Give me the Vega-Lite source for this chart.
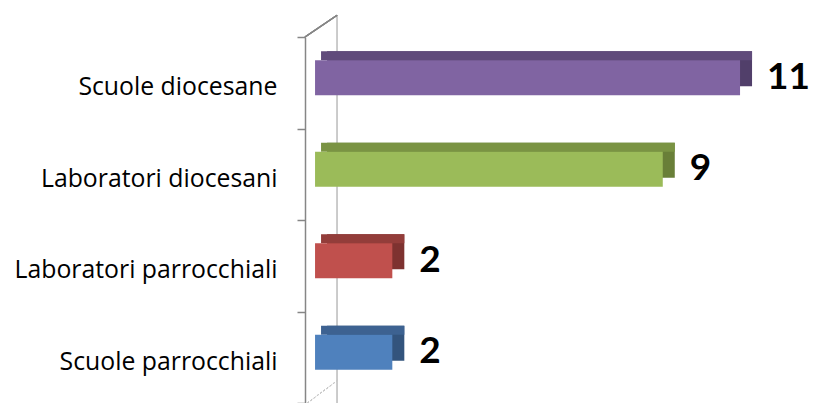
{
  "$schema": "https://vega.github.io/schema/vega-lite/v6.json",
  "width": 493,
  "height": 366,
  "autosize": "none",
  "padding": {"left": 305, "top": 37, "right": 16, "bottom": 0},
  "background": "white",
  "config": {"view": {"stroke": null}},
  "data": {"values": [
    {"cat": "Scuole diocesane", "v": 11},
    {"cat": "Laboratori diocesani", "v": 9},
    {"cat": "Laboratori parrocchiali", "v": 2},
    {"cat": "Scuole parrocchiali", "v": 2}
  ]},
  "encoding": {
    "y": {
      "field": "cat", "type": "nominal",
      "sort": ["Scuole diocesane", "Laboratori diocesani", "Laboratori parrocchiali", "Scuole parrocchiali"],
      "scale": {"paddingInner": 0, "paddingOuter": 0},
      "axis": {
        "title": null, "tickBand": "extent", "tickSize": 8, "tickColor": "#868686", "tickWidth": 1.5,
        "domainColor": "#868686", "domainWidth": 1.5,
        "labelFont": "Open Sans", "labelFontSize": 24.8, "labelColor": "#000000", "labelLimit": 400,
        "labelPadding": 20, "labelOffset": 5, "grid": false
      }
    }
  },
  "layer": [
    {
      "mark": {"type": "rule", "color": "#C8C8C8", "strokeWidth": 1, "yOffset": -22, "y2Offset": -22},
      "encoding": {"x": {"datum": 0.57, "type": "quantitative", "scale": {"domain": [-0.26, 12.5], "nice": false, "zero": false}, "axis": null}, "y": null}
    },
    {
      "mark": {"type": "rule", "color": "#868686", "strokeWidth": 1.5, "y2Offset": -67.5},
      "encoding": {
        "x": {"datum": -0.26, "type": "quantitative"},
        "x2": {"datum": 0.57},
        "y": {"datum": "Scuole diocesane", "bandPosition": 0},
        "y2": {"datum": "Scuole diocesane"}
      }
    },
    {
      "mark": {"type": "rule", "color": "#C8C8C8", "strokeWidth": 1, "strokeDash": [2, 2], "y2Offset": 23.5},
      "encoding": {
        "x": {"datum": -0.2, "type": "quantitative"},
        "x2": {"datum": 0.57},
        "y": {"datum": "Scuole parrocchiali", "bandPosition": 1},
        "y2": {"datum": "Scuole parrocchiali"}
      }
    },
    {
      "mark": {"type": "bar", "height": 35, "yOffset": -14, "xOffset": 12, "x2Offset": 12},
      "encoding": {
        "x": {"field": "v", "type": "quantitative"},
        "x2": {"datum": 0},
        "color": {"field": "cat", "type": "nominal", "legend": null,
          "scale": {"domain": ["Scuole diocesane", "Laboratori diocesani", "Laboratori parrocchiali", "Scuole parrocchiali"],
                    "range": ["#513F6A", "#697F38", "#7E3230", "#33547D"]}}
      }
    },
    {
      "mark": {"type": "bar", "height": 9, "yOffset": -27, "xOffset": 12, "x2Offset": 6},
      "encoding": {
        "x": {"field": "v", "type": "quantitative"},
        "x2": {"datum": 0},
        "fill": {"field": "cat", "type": "nominal", "legend": null,
          "scale": {"domain": ["Scuole diocesane", "Laboratori diocesani", "Laboratori parrocchiali", "Scuole parrocchiali"],
                    "range": ["#604B7B", "#7A9343", "#933D3A", "#3D6291"]}}
      }
    },
    {
      "mark": {"type": "bar", "height": 35, "yOffset": -5},
      "encoding": {
        "x": {"field": "v", "type": "quantitative"},
        "x2": {"datum": 0},
        "stroke": {"value": null},
        "fill": {"field": "cat", "type": "nominal", "legend": null,
          "scale": {"domain": ["Scuole diocesane", "Laboratori diocesani", "Laboratori parrocchiali", "Scuole parrocchiali"],
                    "range": ["#8064A2", "#9BBB59", "#C0504D", "#4F81BD"]}}
      }
    },
    {
      "mark": {"type": "text", "align": "left", "baseline": "middle", "dx": 27, "dy": -5, "font": "Lato", "fontWeight": "bold", "fontSize": 37, "color": "#000000"},
      "encoding": {
        "x": {"field": "v", "type": "quantitative"},
        "text": {"field": "v", "type": "quantitative"}
      }
    }
  ],
  "resolve": {"scale": {"color": "independent", "fill": "independent"}}
}
